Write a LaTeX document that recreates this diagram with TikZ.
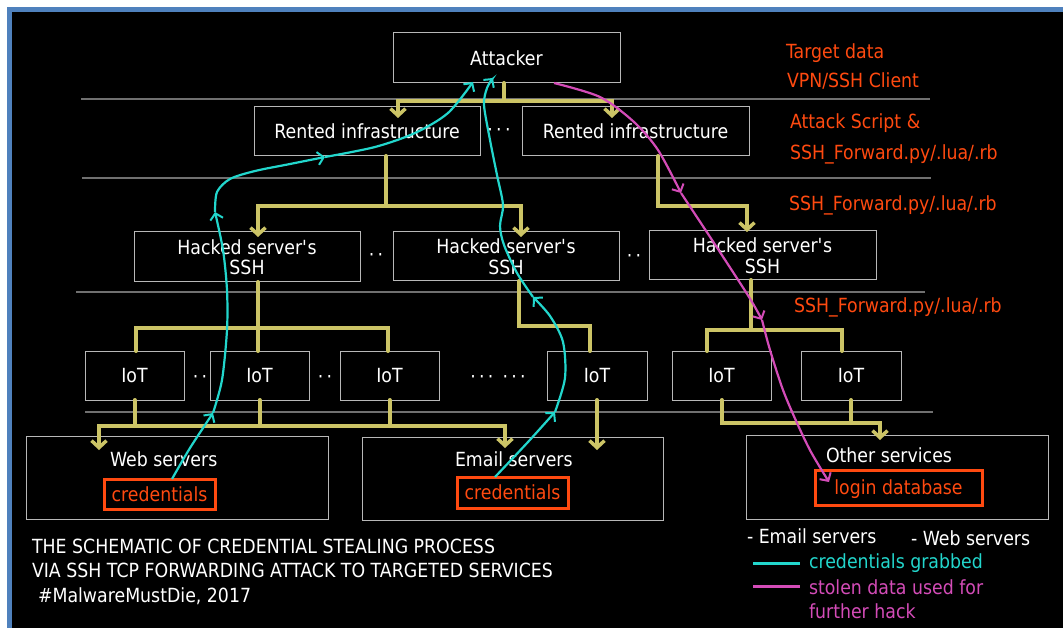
\documentclass[tikz,border=0pt]{standalone}
\usepackage{fontspec}
\setmainfont{DejaVu Sans}[FakeStretch=0.89]
\usetikzlibrary{arrows.meta,calc}

\definecolor{frameblue}{HTML}{4F81BD}
\definecolor{busyellow}{HTML}{CCC466}
\definecolor{grabcyan}{HTML}{22D6CC}
\definecolor{stealpink}{HTML}{D44CB8}
\definecolor{noteorange}{HTML}{FF4A10}
\definecolor{rulegray}{HTML}{707070}
\definecolor{edgegray}{HTML}{B8B8B8}

\begin{document}
\begin{tikzpicture}[x=1pt,y=-1pt,
  font=\fontsize{19.5}{22}\selectfont,
  every node/.style={inner sep=0pt, outer sep=0pt},
  box/.style={draw=edgegray, line width=1pt, text=white, text depth=0pt, align=center},
  hot/.style={draw=noteorange, line width=3pt, text=noteorange, text depth=0pt},
  lbl/.style={text=white, anchor=base west},
  side/.style={text=noteorange, anchor=base west},
  dots/.style={text=white, anchor=base},
  sep/.style={draw=rulegray, line width=1.2pt},
  yel/.style={draw=busyellow, line width=4pt, line cap=round},
  yarr/.style={-{Straight Barb[length=7pt,width=15pt,line width=3.5pt]}},
  cy/.style={draw=grabcyan, line width=2.2pt, -{Straight Barb[length=6pt,width=13pt,line width=2pt]}},
  mg/.style={draw=stealpink, line width=2.2pt, -{Straight Barb[length=6pt,width=13pt,line width=2pt]}},
]
% canvas and frame
\useasboundingbox (0,0) rectangle (1063,628);
\fill[white] (0,0) rectangle (1063,628);
\fill[frameblue] (7,7) rectangle (1063,628);
\fill[black] (12,12) rectangle (1063,628);

% layer separators
\draw[sep] (81,99) -- (930,99);
\draw[sep] (82,178) -- (931,178);
\draw[sep] (76,292) -- (925,292);
\draw[sep] (85,412) -- (933,412);

% boxes
\node[box, minimum width=227pt, minimum height=50pt] (att) at (506.5,58) {Attacker};
\node[box, minimum width=226pt, minimum height=49pt] (rent1) at (367,131.5) {Rented infrastructure};
\node[box, minimum width=227pt, minimum height=49pt] (rent2) at (635.5,131.5) {Rented infrastructure};
\node[box, minimum width=226pt, minimum height=50pt] (hack1) at (247,257) {Hacked server\textquotesingle s\\[-1.5pt]SSH};
\node[box, minimum width=226pt, minimum height=49pt] (hack2) at (506,256.5) {Hacked server\textquotesingle s\\[-1.5pt]SSH};
\node[box, minimum width=227pt, minimum height=49pt] (hack3) at (762.5,255.5) {Hacked server\textquotesingle s\\[-1.5pt]SSH};
\node[box, minimum width=99pt, minimum height=49pt] (iot1) at (134.5,375.5) {IoT};
\node[box, minimum width=99pt, minimum height=49pt] (iot2) at (259.5,375.5) {IoT};
\node[box, minimum width=99pt, minimum height=49pt] (iot3) at (389.5,375.5) {IoT};
\node[box, minimum width=100pt, minimum height=49pt] (iot4) at (597,375.5) {IoT};
\node[box, minimum width=99pt, minimum height=49pt] (iot5) at (721.5,375.5) {IoT};
\node[box, minimum width=100pt, minimum height=49pt] (iot6) at (851,375.5) {IoT};
\node[box, minimum width=302pt, minimum height=83pt] (web) at (177,477.5) {};
\node[box, minimum width=301pt, minimum height=83pt] (email) at (512.5,478.5) {};
\node[box, minimum width=302pt, minimum height=84pt] (other) at (897,477) {};
\node[lbl] (webt) at (110,466) {Web servers};
\node[lbl] (emailt) at (455,466) {Email servers};
\node[lbl] (othert) at (826,462) {Other services};
\node[hot, minimum width=111pt, minimum height=30pt] (cred1) at (159.5,494) {credentials};
\node[hot, minimum width=111pt, minimum height=31pt] (cred2) at (512.5,492.5) {credentials};
\node[hot, minimum width=167pt, minimum height=35pt] (logindb) at (898.5,487.5) {login database};

% ellipses between boxes
\node[dots] (d1) at (499,137) {·\,·\,·};
\node[dots] (d2) at (376,262) {·\,·};
\node[dots] (d3) at (634,263) {·\,·};
\node[dots] (d4) at (200,383) {·\,·};
\node[dots] (d5) at (325,383) {·\,·};
\node[dots] (d6) at (498,383) {·\,·\,·\hspace{9pt}·\,·\,·};

% notes on the right
\node[side] (n1) at (786,59) {Target data};
\node[side] (n2) at (787,88) {VPN/SSH Client};
\node[side] (n3) at (790,129) {Attack Script \&};
\node[side] (n4) at (790,160) {SSH\_Forward.py/.lua/.rb};
\node[side] (n5) at (789,211) {SSH\_Forward.py/.lua/.rb};
\node[side] (n6) at (794,313) {SSH\_Forward.py/.lua/.rb};

% caption
\node[lbl] (cap1) at (32,553) {THE SCHEMATIC OF CREDENTIAL STEALING PROCESS};
\node[lbl] (cap2) at (32,577) {VIA SSH TCP FORWARDING ATTACK TO TARGETED SERVICES};
\node[lbl] (cap3) at (38,602) {\#MalwareMustDie, 2017};

% legend
\node[lbl] (lg1) at (747,543) {- Email servers};
\node[lbl] (lg2) at (911,545) {- Web servers};
\draw[grabcyan, line width=3pt] (753,563) -- (800,563);
\draw[stealpink, line width=3pt] (753,586) -- (800,586);
\node[lbl, text=grabcyan] (lg3) at (809,568) {credentials grabbed};
\node[lbl, text=stealpink] (lg4) at (809,594) {stolen data used for};
\node[lbl, text=stealpink] (lg5) at (809,618) {further hack};

% ---- SSH forwarding tree ----
\coordinate (j1) at (504,101);
\coordinate (k1) at (398,0);
\coordinate (k2) at (612,0);
\draw[yel] (att.south -| j1) -- (j1);
\draw[yel,yarr,shorten >=-11pt] (j1) -| (rent1.north -| k1);
\draw[yel,yarr,shorten >=-11pt] (j1) -| (rent2.north -| k2);

\coordinate (j2) at (386,206);
\coordinate (k3) at (258,0);
\coordinate (k4) at (521,0);
\draw[yel] (rent1.south -| j2) -- (j2);
\draw[yel,yarr,shorten >=-5pt] (j2) -| (hack1.north -| k3);
\draw[yel,yarr,shorten >=-5pt] (j2) -| (hack2.north -| k4);

\coordinate (j3) at (658,206);
\coordinate (k5) at (747,0);
\draw[yel,yarr,shorten >=-1pt] (rent2.south -| j3) -- (j3) -| (hack3.north -| k5);

\coordinate (j4) at (258,328);
\coordinate (k6) at (136,0);
\coordinate (k7) at (388,0);
\draw[yel] (hack1.south -| j4) -- (iot2.north -| j4);
\draw[yel] (j4) -| (iot1.north -| k6);
\draw[yel] (j4) -| (iot3.north -| k7);

\coordinate (j5) at (519,326);
\coordinate (k8) at (590,0);
\draw[yel] (hack2.south -| j5) -- (j5) -| (iot4.north -| k8);

\coordinate (j6) at (751,330);
\coordinate (k9) at (707,0);
\coordinate (k10) at (842,0);
\draw[yel] (hack3.south -| j6) -- (j6);
\draw[yel] (j6) -| (iot5.north -| k9);
\draw[yel] (j6) -| (iot6.north -| k10);

\coordinate (j7) at (257,426);
\coordinate (k11) at (99,0);
\coordinate (k12) at (505,0);
\draw[yel] (iot1.south) -- (iot1.south |- j7);
\draw[yel] (iot2.south) -- (iot2.south |- j7);
\draw[yel] (iot3.south) -- (iot3.south |- j7);
\draw[yel,yarr,shorten >=-14pt] (j7) -| (web.north -| k11);
\draw[yel,yarr,shorten >=-11pt] (j7) -| (email.north -| k12);
\draw[yel,yarr,shorten >=-13pt] (iot4.south) -- (email.north -| iot4.south);

\coordinate (j8) at (880,423);
\draw[yel,yarr,shorten >=-5pt] (iot5.south) |- (j8) -- (other.north -| j8);
\draw[yel] (iot6.south) -- (iot6.south |- j8);

% ---- credentials pulled back to the attacker ----
\draw[cy] plot[smooth] coordinates {([xshift=12.5pt]cred1.north) (190,448) (213,413)};
\draw[cy] plot[smooth] coordinates {(213,413) (222,380) (227,330) (227,290) (223,250) (215,212)};
\draw[cy] plot[smooth] coordinates {(215,212) (217,192) (230,179) (255,171) (290,164) (325,157)};
\draw[cy] plot[smooth] coordinates {(325,157) (375,147) (415,133) (448,113) ([xshift=-33.5pt,yshift=1pt]att.south)};

\draw[cy] plot[smooth] coordinates {([xshift=-17.5pt]cred2.north) (528,442) (555,412)};
\draw[cy] plot[smooth] coordinates {(555,412) (565,378) (563,342) (550,316) (533,297)};
\draw[cy] plot[smooth] coordinates {(533,297) (517,273) (504,245) (500,226) (503,205) (497,175) (490,140) (484,105) (487,88) ([xshift=-13.5pt,yshift=5pt]att.south)};

% ---- stolen data pushed to other services ----
\draw[mg] plot[smooth] coordinates {([xshift=47.5pt]att.south) (600,97) (634,122) (658,150) (681,193)};
\draw[mg] plot[smooth] coordinates {(681,193) (714,243) (749,297) (762,320)};
\draw[mg] plot[smooth] coordinates {(762,320) (770,350) (783,390) (797,423) (811,452) ([xshift=14pt,yshift=-12pt]logindb.north west)};
\end{tikzpicture}
\end{document}
